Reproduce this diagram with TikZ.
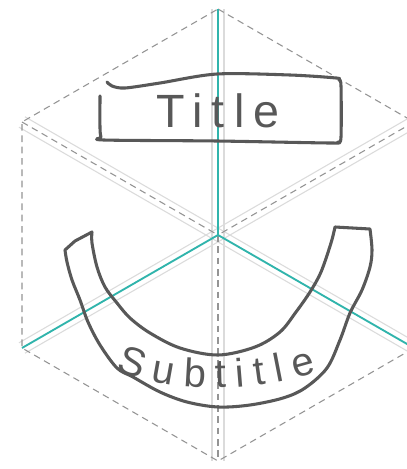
\documentclass[tikz,border=0pt]{standalone}
\usepackage{fontspec}
\setmainfont{Liberation Sans}
\newfontfamily\handtitle[LetterSpace=20]{Liberation Sans}
\usepackage{xcolor}
\usepackage{tikz}
\usetikzlibrary{
    calc,
    decorations.text
}
\definecolor{guideteal}{RGB}{48,180,172}
\definecolor{inkgray}{RGB}{88,88,88}
\newcommand\bandfont{\fontsize{30}{32}\selectfont}

\begin{document}
\begin{tikzpicture}[
x=0.75pt,
y=-0.75pt,
guide/.style={
draw=black!42,
line width=0.8pt,
dash pattern=on 5pt off 3.5pt
},
flank/.style={
draw=black!14,
line width=0.8pt
},
axis/.style={
draw=guideteal,
line width=1.4pt
},
sketch/.style={
draw=inkgray,
line width=2.3pt,
line cap=round,
line join=round
},
titletext/.style={
anchor=base,
inner sep=0pt,
text=inkgray,
font=\handtitle\fontsize{35}{37}\selectfont
}
]

\fill[white] (0,0) rectangle (407,469);
\useasboundingbox (0,0) rectangle (407,469);

\coordinate (c) at (218,235);
\coordinate (top) at (218,9);
\coordinate (ur) at (414,122);
\coordinate (lr) at (414,348);
\coordinate (bot) at (218,461);
\coordinate (ll) at (22,348);
\coordinate (ul) at (22,122);

\foreach \a/\b in {top/bot, ul/lr, ur/ll} {
\draw[flank] ($(\a)!4.5pt!90:(\b)$) -- ($(\b)!4.5pt!-90:(\a)$);
\draw[flank] ($(\a)!4.5pt!-90:(\b)$) -- ($(\b)!4.5pt!90:(\a)$);
}

\draw[guide] (top) -- (ur) -- (lr) -- (bot) -- (ll) -- (ul) -- cycle;
\draw[guide] (ul) -- (c);
\draw[guide] (ur) -- (c);
\draw[guide] (c) -- (bot);

\draw[axis] (c) -- (top);
\draw[axis] (c) -- (ll);
\draw[axis] (c) -- (lr);

\draw[sketch] plot[smooth, tension=0.5] coordinates {
(107,82) (112,86) (125,88) (160,83) (217,74) (290,75) (336,78)
(339,80) (341,86) (341,137) (338,142) (330,143) (217,141) (104,140)
(101,137) (100,128) (100,96)};

\node[titletext] (title) at (218,127) {Title};

\draw[sketch] plot[smooth, tension=0.55] coordinates {
(92,232) (92,243) (97,267) (105,287) (117,303) (130,318) (150,333)
(180,348) (218,355) (255,347) (280,332) (296,312) (310,292) (321,272)
(331,243) (335,227)}
-- plot[smooth, tension=0.55] coordinates {
(370,229) (372,250) (370,267) (362,290) (350,313) (340,340) (327,368)
(305,388) (283,398) (250,405) (218,407) (187,402) (160,392) (133,377)
(117,368) (100,345) (88,322) (80,300) (72,280) (67,262) (65,250)}
-- (75,241) -- cycle;

\path[decorate, decoration={text along path,
text={|\bandfont|Subtitle},
text align={fit to path},
text color=inkgray}]
(116,370) .. controls (175,396) and (258,391) .. (317,372);

\end{tikzpicture}
\end{document}
